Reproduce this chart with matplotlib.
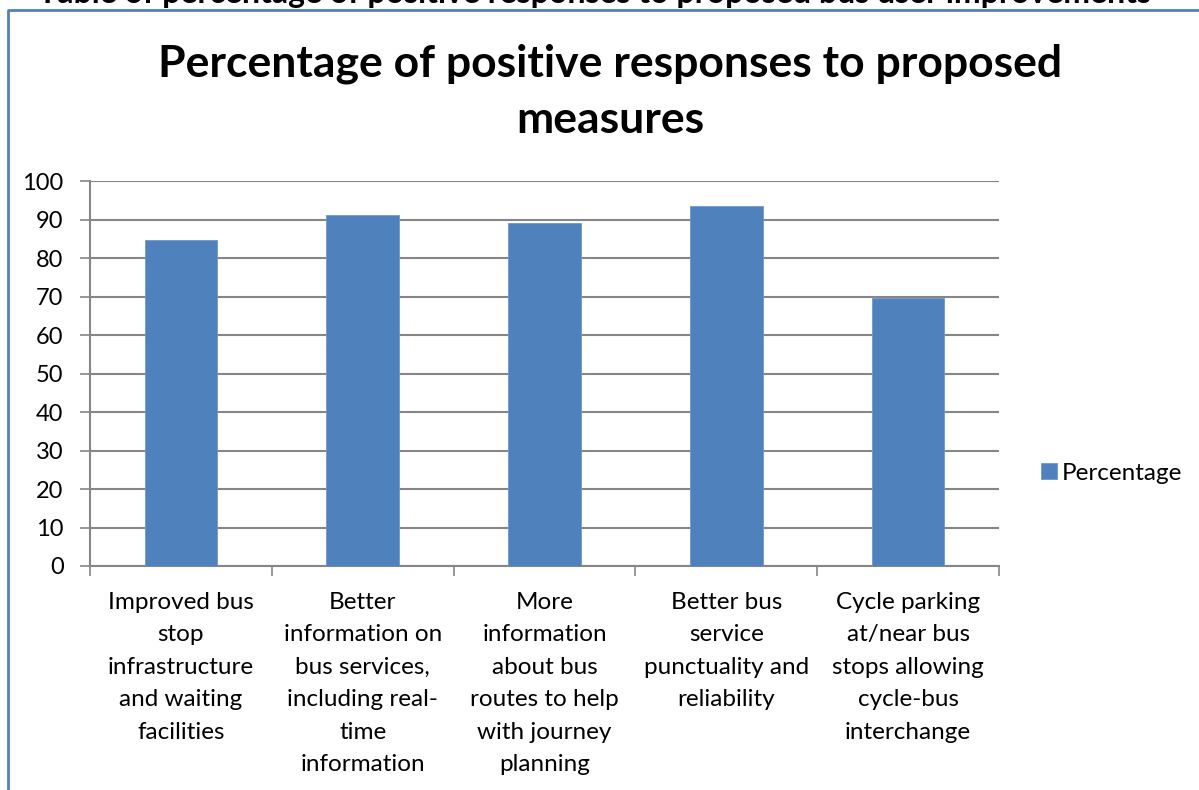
import matplotlib.pyplot as plt
from matplotlib.lines import Line2D

# data
categories = [
    "Improved bus\nstop\ninfrastructure\nand waiting\nfacilities",
    "Better\ninformation on\nbus services,\nincluding real-\ntime\ninformation",
    "More\ninformation\nabout bus\nroutes to help\nwith journey\nplanning",
    "Better bus\nservice\npunctuality and\nreliability",
    "Cycle parking\nat/near bus\nstops allowing\ncycle-bus\ninterchange",
]
percentage = [84.8, 91.2, 89.2, 93.4, 69.6]
y_ticks = [0, 10, 20, 30, 40, 50, 60, 70, 80, 90, 100]

BAR = "#4F81BD"
GRID = "#868686"
W, H = 1199, 790

plt.rcParams["font.family"] = ["Lato", "DejaVu Sans"]

fig = plt.figure(figsize=(W / 100, H / 100), dpi=100)
ax = fig.add_axes([90 / W, 1 - 566 / H, (999 - 90) / W, (566 - 181) / H])

x = list(range(len(categories)))
ax.bar(x, percentage, width=0.4, color=BAR, edgecolor="#6F98CC", linewidth=0.6,
       label="Percentage", zorder=3)

ax.set_xlim(-0.5, len(categories) - 0.5)
ax.set_ylim(0, 100)
ax.set_yticks(y_ticks)
ax.yaxis.grid(True, color=GRID, linewidth=1.5, zorder=0)
ax.tick_params(axis="y", length=7, width=1.2, color=GRID, labelsize=17, pad=12)

# category boundaries carry the x tick marks
ax.set_xticks([i - 0.5 for i in range(len(categories) + 1)])
ax.set_xticklabels([])
ax.tick_params(axis="x", length=7, width=1.2, color=GRID)
for i, lab in enumerate(categories):
    ax.text(i, -26 / 385, lab, transform=ax.get_xaxis_transform(),
            ha="center", va="top", fontsize=17.5, linespacing=1.67)

for s in ["top", "right"]:
    ax.spines[s].set_visible(False)
for s in ["left", "bottom"]:
    ax.spines[s].set_color(GRID)
    ax.spines[s].set_linewidth(1.5)

ax.legend(loc="center left", bbox_to_anchor=(1.022, (566 - 473) / 385), frameon=False,
          fontsize=17.5, handlelength=0.65, handleheight=0.65, handletextpad=0.2)

title_lines = ["Percentage of positive responses to proposed", "measures"]
for line, base in zip(title_lines, [76, 133]):
    fig.text(610 / W, 1 - base / H, line, ha="center", va="baseline",
             fontsize=32, fontweight="bold")

# caption from the page above, cut off by the crop
fig.text(595 / W, 1 - 3 / H,
         "Table of percentage of positive responses to proposed bus user improvements",
         ha="center", va="baseline", fontsize=23, fontweight="bold")

# chart area border (only top and left edges visible)
fig.add_artist(Line2D([8 / W, 8 / W, 1.0], [0.0, 1 - 10 / H, 1 - 10 / H],
                      transform=fig.transFigure, color="#4F81BD", linewidth=2))

fig.savefig("out.png", dpi=100)
